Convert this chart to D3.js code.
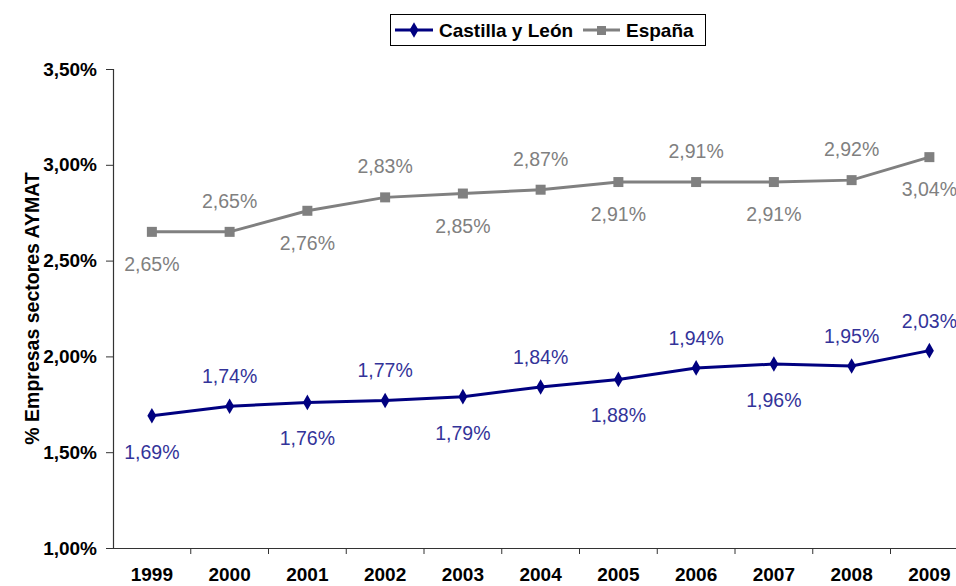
<!DOCTYPE html>
<html>
<head>
<meta charset="utf-8">
<script src="https://cdn.jsdelivr.net/npm/d3@7"></script>
<style>
  html, body { margin: 0; padding: 0; background: #fff; }
  svg { display: block; font-family: Arial, "Liberation Sans", sans-serif; }
</style>
</head>
<body>
<svg id="chart" width="956" height="586"></svg>
<script>
const years = ["1999","2000","2001","2002","2003","2004","2005","2006","2007","2008","2009"];
const castillaLeon = [1.69, 1.74, 1.76, 1.77, 1.79, 1.84, 1.88, 1.94, 1.96, 1.95, 2.03];
const espana = [2.65, 2.65, 2.76, 2.83, 2.85, 2.87, 2.91, 2.91, 2.91, 2.92, 3.04];
const yTicks = [1.00, 1.50, 2.00, 2.50, 3.00, 3.50];
const seriesNames = ["Castilla y León", "España"];
const cylLabelSide = ["below","above","below","above","below","above","below","above","below","above","above"];
const espLabelSide = ["below","above","below","above","below","above","below","above","below","above","below"];

(function () {
const svg = d3.select("#chart");
const mLeft = 113, mTop = 69, mBottom = 548, band = 77.75;
const x = d3.scaleBand().domain(years).range([mLeft, mLeft + band * years.length]);
const y = d3.scaleLinear().domain([1, 3.5]).range([mBottom, mTop]);
const locale = d3.formatLocale({decimal: ",", thousands: ".", grouping: [3], currency: ["", "€"]});
const f2 = locale.format(".2f");
const pct = v => f2(v) + "%";
const cx = d => x(d) + x.bandwidth() / 2;

// Y axis
const yAxis = svg.append("g").attr("transform", `translate(${mLeft},0)`)
  .call(d3.axisLeft(y).tickValues(yTicks).tickFormat(pct).tickSize(7).tickPadding(9));
yAxis.select(".domain").attr("stroke", "#333").attr("stroke-width", 1.2);
yAxis.selectAll(".tick line").attr("stroke", "#333");
yAxis.selectAll("text").attr("font-size", 19).attr("font-weight", "bold")
  .attr("font-family", "Arial, 'Liberation Sans', sans-serif").attr("fill", "#000");

// X axis
const xAxis = svg.append("g").attr("transform", `translate(0,${mBottom})`)
  .call(d3.axisBottom(x).tickSize(0).tickPadding(0));
xAxis.select(".domain").attr("stroke", "#333").attr("stroke-width", 1.2);
xAxis.selectAll(".tick text").attr("font-size", 19).attr("font-weight", "bold")
  .attr("font-family", "Arial, 'Liberation Sans', sans-serif").attr("fill", "#000")
  .attr("dy", null).attr("y", 33);
xAxis.selectAll(".bt").data(years).enter().append("line")
  .attr("class", "bt")
  .attr("x1", (d, i) => mLeft + band * (i + 1)).attr("x2", (d, i) => mLeft + band * (i + 1))
  .attr("y1", 0).attr("y2", 6).attr("stroke", "#333");

// Axis title
svg.append("text")
  .attr("transform", `translate(32,${(mTop + mBottom) / 2}) rotate(-90)`)
  .attr("text-anchor", "middle").attr("dominant-baseline", "central")
  .attr("font-size", 19.5).attr("font-weight", "bold").text("% Empresas sectores AYMAT");

const line = d3.line().x((d, i) => cx(years[i])).y(d => y(d));

// España
svg.append("path").datum(espana).attr("d", line)
  .attr("fill", "none").attr("stroke", "#808080").attr("stroke-width", 3);
svg.selectAll(".esq").data(espana).enter().append("rect")
  .attr("x", (d, i) => cx(years[i]) - 5).attr("y", d => y(d) - 5)
  .attr("width", 10).attr("height", 10).attr("fill", "#808080");
svg.selectAll(".elab").data(espana).enter().append("text")
  .attr("x", (d, i) => cx(years[i]))
  .attr("y", (d, i) => y(d) + (espLabelSide[i] === "above" ? -31 : 32))
  .attr("text-anchor", "middle").attr("dominant-baseline", "central")
  .attr("font-size", 19.5).attr("fill", "#808080").text(d => pct(d));

// Castilla y León
svg.append("path").datum(castillaLeon).attr("d", line)
  .attr("fill", "none").attr("stroke", "#000080").attr("stroke-width", 3);
const diamond = d3.symbol().type(d3.symbolDiamond).size(70);
svg.selectAll(".cdm").data(castillaLeon).enter().append("path")
  .attr("d", diamond)
  .attr("transform", (d, i) => `translate(${cx(years[i])},${y(d)})`)
  .attr("fill", "#000080");
svg.selectAll(".clab").data(castillaLeon).enter().append("text")
  .attr("x", (d, i) => cx(years[i]))
  .attr("y", (d, i) => y(d) + (cylLabelSide[i] === "above" ? -30 : 36))
  .attr("text-anchor", "middle").attr("dominant-baseline", "central")
  .attr("font-size", 19.5).attr("fill", "#333399").text(d => pct(d));

// Legend
const lg = svg.append("g");
lg.append("rect").attr("x", 390.5).attr("y", 14.5).attr("width", 315).attr("height", 31)
  .attr("fill", "#fff").attr("stroke", "#000").attr("stroke-width", 1);
lg.append("line").attr("x1", 395).attr("x2", 433).attr("y1", 30).attr("y2", 30)
  .attr("stroke", "#000080").attr("stroke-width", 3);
lg.append("path").attr("d", diamond).attr("transform", "translate(414,30)").attr("fill", "#000080");
lg.append("text").attr("x", 439).attr("y", 30).attr("dominant-baseline", "central")
  .attr("font-size", 19).attr("font-weight", "bold").text(seriesNames[0]);
lg.append("line").attr("x1", 583).attr("x2", 620).attr("y1", 30).attr("y2", 30)
  .attr("stroke", "#808080").attr("stroke-width", 3);
lg.append("rect").attr("x", 597).attr("y", 26).attr("width", 9).attr("height", 9).attr("fill", "#808080");
lg.append("text").attr("x", 626).attr("y", 30).attr("dominant-baseline", "central")
  .attr("font-size", 19).attr("font-weight", "bold").text(seriesNames[1]);
})();
</script>
</body>
</html>
